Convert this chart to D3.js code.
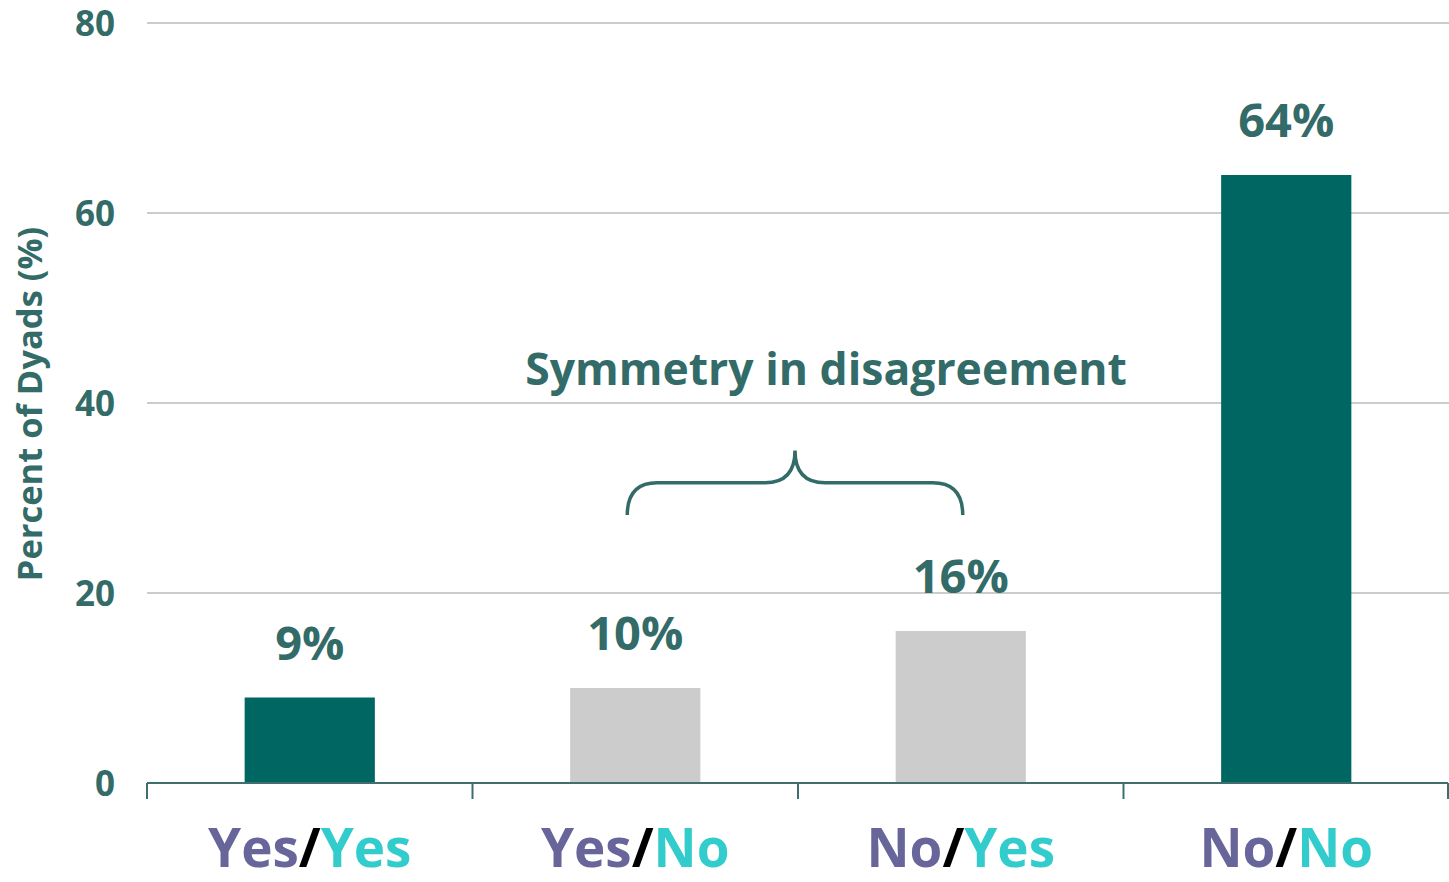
<!DOCTYPE html>
<html lang="en">
  <head>
    <meta charset="UTF-8" />
    <title>Dyads</title>
    <style>
      body { margin: 0; background: #fff; }
      text { font-family: "Open Sans", Lato, sans-serif; font-weight: 700; }
    </style>
  </head>
  <body>
    <svg id="svg" width="1449" height="882"></svg>
    <script src="https://d3js.org/d3.v7.min.js"></script>
    <script>
      const svgWidth = 1449;
      const svgHeight = 882;
      const margin = { top: 23, right: 0, bottom: 99, left: 147 };
      const height = svgHeight - margin.bottom;

      // data
      const categories = ["Yes/Yes", "Yes/No", "No/Yes", "No/No"];
      const values = [9, 10, 16, 64];
      const highlight = [true, false, false, true];
      const yTicks = [0, 20, 40, 60, 80];

      const textColor = "#336b68";
      const svg = d3.select("#svg");

      const xScale = d3
        .scaleBand()
        .domain(categories)
        .range([margin.left, svgWidth - margin.right])
        .padding(0);

      const yScale = d3.scaleLinear().domain([0, 80]).range([height, margin.top]);

      // gridlines
      svg
        .append("g")
        .selectAll("line")
        .data(yTicks.filter((d) => d > 0))
        .join("line")
        .attr("x1", margin.left)
        .attr("x2", svgWidth - margin.right)
        .attr("y1", (d) => yScale(d))
        .attr("y2", (d) => yScale(d))
        .attr("stroke", "#cccccc")
        .attr("stroke-width", 2);

      // y tick labels
      svg
        .append("g")
        .selectAll("text")
        .data(yTicks)
        .join("text")
        .attr("x", 115)
        .attr("y", (d) => yScale(d))
        .attr("dy", "0.36em")
        .attr("text-anchor", "end")
        .attr("font-size", 35)
        .attr("fill", textColor)
        .text((d) => d);

      // y axis title
      svg
        .append("text")
        .attr("transform", `translate(42, ${(225 + 583) / 2}) rotate(-90)`)
        .attr("text-anchor", "middle")
        .attr("font-size", 34.5)
        .attr("fill", textColor)
        .text("Percent of Dyads (%)");

      // bars
      const barW = xScale.bandwidth() * 0.4;
      const cx = (d) => xScale(d) + xScale.bandwidth() / 2;
      svg
        .append("g")
        .selectAll("rect")
        .data(categories)
        .join("rect")
        .attr("x", (d) => cx(d) - barW / 2)
        .attr("y", (d, i) => yScale(values[i]))
        .attr("width", barW)
        .attr("height", (d, i) => height - yScale(values[i]))
        .attr("fill", (d, i) => (highlight[i] ? "#006662" : "#cccccc"));

      // value labels
      svg
        .append("g")
        .selectAll("text")
        .data(categories)
        .join("text")
        .attr("x", (d) => cx(d))
        .attr("y", (d, i) => yScale(values[i]) - 38)
        .attr("text-anchor", "middle")
        .attr("font-size", 47)
        .attr("fill", textColor)
        .text((d, i) => values[i] + "%");

      // x axis
      const xAxis = svg.append("g").attr("transform", `translate(0, ${height})`);
      xAxis
        .append("line")
        .attr("x1", margin.left)
        .attr("x2", svgWidth - 1)
        .attr("stroke", "#3f6f6d")
        .attr("stroke-width", 2);
      const bounds = categories.map((d) => xScale(d)).concat([svgWidth - 1]);
      xAxis
        .selectAll("line.tick")
        .data(bounds)
        .join("line")
        .attr("class", "tick")
        .attr("x1", (d) => d)
        .attr("x2", (d) => d)
        .attr("y1", 0)
        .attr("y2", 16)
        .attr("stroke", "#3f6f6d")
        .attr("stroke-width", 2);

      // x labels, coloured per answer
      const labels = xAxis
        .selectAll("text")
        .data(categories)
        .join("text")
        .attr("x", (d) => cx(d))
        .attr("y", 84)
        .attr("text-anchor", "middle")
        .attr("font-size", 53);
      labels.each(function (d) {
        const [a, b] = d.split("/");
        const t = d3.select(this);
        t.append("tspan").attr("fill", "#67659a").text(a);
        t.append("tspan").attr("fill", "#000000").text("/");
        t.append("tspan").attr("fill", "#33cccc").text(b);
      });

      // brace over the disagreement bars
      const bx1 = cx("Yes/No") - 8;
      const bx2 = cx("No/Yes") + 2;
      const bm = (bx1 + bx2) / 2;
      const yBot = yScale(28.2);
      const yMid = yScale(31.6);
      const yTip = yScale(35);
      const r = 30;
      const brace = d3.path();
      brace.moveTo(bx1, yBot);
      brace.quadraticCurveTo(bx1, yMid, bx1 + r, yMid);
      brace.lineTo(bm - r, yMid);
      brace.quadraticCurveTo(bm, yMid, bm, yTip);
      brace.quadraticCurveTo(bm, yMid, bm + r, yMid);
      brace.lineTo(bx2 - r, yMid);
      brace.quadraticCurveTo(bx2, yMid, bx2, yBot);
      svg
        .append("path")
        .attr("d", brace.toString())
        .attr("fill", "none")
        .attr("stroke", "#336b68")
        .attr("stroke-width", 3.5);

      svg
        .append("text")
        .attr("x", 826)
        .attr("y", yScale(41.9))
        .attr("text-anchor", "middle")
        .attr("font-size", 44.5)
        .attr("fill", textColor)
        .text("Symmetry in disagreement");
    </script>
  </body>
</html>
